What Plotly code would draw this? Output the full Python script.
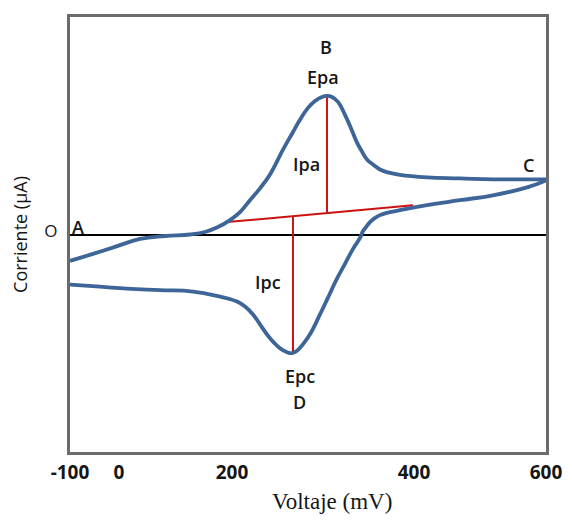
import plotly.graph_objects as go

# Forward (anodic) sweep A -> B -> C
fwd_x = [-100, -66.2, -33.8, 2.9, 39.7, 76.5, 98.5, 117.6, 135.3, 150.0, 164.7, 179.4,
         194.1, 213.2, 226.5, 238.2, 250.0, 260.3, 270.6, 277.9, 285.3, 294.1, 304.4,
         314.7, 322.1, 329.4, 336.8, 345.6, 355.9, 367.6, 385.3, 425.0, 473.5, 522.1,
         561.8, 600]
fwd_y = [-2.6, -1.9, -1.2, -0.4, -0.1, 0.05, 0.3, 0.8, 1.5, 2.3, 3.5, 4.7,
         6.1, 8.6, 10.2, 11.6, 12.8, 13.5, 13.9, 14.0, 13.9, 13.4, 12.1,
         10.5, 9.3, 8.4, 7.6, 7.1, 6.6, 6.3, 6.05, 5.8, 5.7, 5.6,
         5.6, 5.6]

# Reverse (cathodic) sweep C -> D -> back
rev_x = [600, 572.1, 522.1, 473.5, 425.0, 385.3, 367.6, 355.9, 347.1, 341.2, 335.3,
         330.9, 326.5, 316.2, 304.4, 292.6, 279.4, 267.6, 252.9, 242.6, 233.8, 226.5,
         217.6, 208.8, 194.1, 182.4, 169.1, 157.4, 145.6, 132.4, 120.6, 80.9, 32.4,
         -16.2, -55.9, -100]
rev_y = [5.5, 4.8, 4.0, 3.5, 3.0, 2.5, 2.25, 2.0, 1.65, 1.3, 0.8,
         0.4, -0.3, -1.4, -2.9, -4.4, -6.3, -8.0, -10.0, -11.0, -11.65, -11.9,
         -11.75, -11.4, -10.4, -9.3, -8.0, -7.2, -6.7, -6.4, -6.2, -5.7, -5.55,
         -5.4, -5.2, -5.0]

# Baseline and peak current markers
base_x = [130.9, 404.4]
base_y = [1.3, 3.0]
ipa_x = [277.9, 277.9]
ipa_y = [2.2, 14.0]
ipc_x = [227.9, 227.9]
ipc_y = [1.9, -11.9]

# Tick labels
x_tickvals = [-100, -27.9, 138.2, 405.9, 600]
x_ticktext = ["-100", "0", "200", "400", "600"]

# Point labels
lbl_text = ["A", "B", "Epa", "Ipa", "C", "Ipc", "Epc", "D"]
lbl_x = [-88.2, 276.5, 272.1, 248.5, 574.0, 191.2, 238.2, 238.2]
lbl_y = [0.8, 18.9, 15.9, 7.1, 7.0, -4.7, -14.2, -16.85]

curve_col = "#3e6597"
red = "#cc1111"
txt = "#161616"

fig = go.Figure()
for xs, ys in [(base_x, base_y), (ipa_x, ipa_y), (ipc_x, ipc_y)]:
    fig.add_trace(go.Scatter(x=xs, y=ys, mode="lines",
                             line=dict(color=red, width=2), hoverinfo="skip"))
for xs, ys in [(fwd_x, fwd_y), (rev_x, rev_y)]:
    fig.add_trace(go.Scatter(x=xs, y=ys, mode="lines",
                             line=dict(color=curve_col, width=3.8, shape="spline", smoothing=1.3)))

for t, x, y in zip(lbl_text, lbl_x, lbl_y):
    fig.add_annotation(x=x, y=y, text=t, showarrow=False,
                       font=dict(family="Open Sans", size=18, color=txt, weight=600))

fig.add_annotation(xref="paper", yref="paper", x=0.55, y=0, yanchor="middle",
                   yshift=-49, text="Voltaje (mV)", showarrow=False,
                   font=dict(family="Liberation Serif", size=23, color=txt))

fig.update_layout(
    width=564, height=512,
    margin=dict(l=62, r=26, t=6, b=68),
    paper_bgcolor="white", plot_bgcolor="white",
    showlegend=False,
    xaxis=dict(range=[-100, 600], showgrid=False, zeroline=False,
               showline=True, linecolor="#6b6b6b", linewidth=3, mirror=True,
               tickvals=x_tickvals, ticktext=x_ticktext, ticks="",
               tickfont=dict(family="Open Sans", size=19, color=txt, weight="bold"),
               ticklabelstandoff=1),
    yaxis=dict(range=[-21.85, 21.95], showgrid=False,
               zeroline=True, zerolinecolor="black", zerolinewidth=2,
               showline=True, linecolor="#6b6b6b", linewidth=3, mirror=True,
               tickvals=[0.4], ticktext=["O"], ticks="",
               tickfont=dict(family="Open Sans", size=17, color=txt),
               ticklabelstandoff=6,
               title=dict(text="Corriente (µA)", standoff=14,
                          font=dict(family="Open Sans", size=18, color=txt))),
)

fig.write_html("out.html")
